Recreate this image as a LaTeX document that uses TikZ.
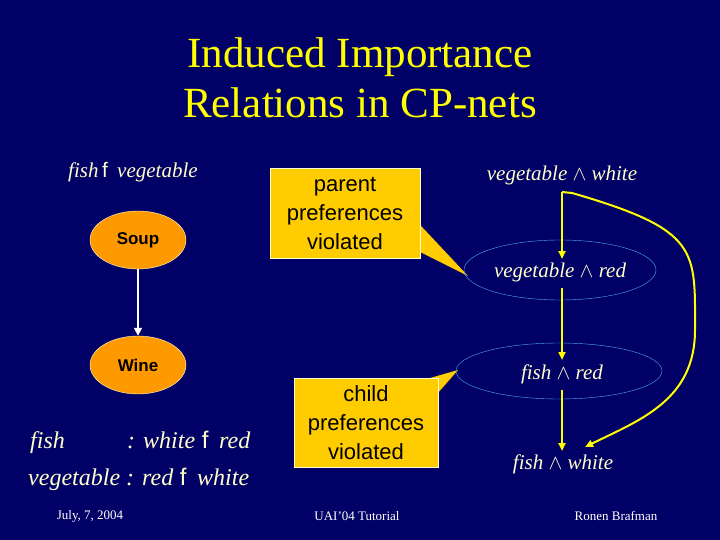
\documentclass[tikz,border=0pt]{standalone}
\usepackage{fontspec}
\setmainfont{Liberation Serif}
\newfontfamily\ls{Liberation Sans}
\usetikzlibrary{shapes.geometric,arrows.meta}
\definecolor{bg}{RGB}{0,0,102}
\definecolor{ttl}{RGB}{255,255,0}
\definecolor{txt}{RGB}{255,255,204}
\definecolor{orng}{RGB}{255,153,0}
\definecolor{callout}{RGB}{255,204,0}
\definecolor{ell}{RGB}{80,170,255}
\tikzset{
 cp/.style={ellipse,fill=orng,draw=txt,minimum width=96pt,minimum height=58pt,inner sep=0pt,font=\ls\fontsize{17}{19}\selectfont\bfseries,text=black},
 lab/.style={text=txt,font=\itshape\fontsize{21}{24}\selectfont,inner sep=0pt},
 llab/.style={text=txt,font=\itshape\fontsize{24}{26}\selectfont,inner sep=0pt},
 box/.style={fill=callout,draw=txt,text=black,align=center,font=\ls\fontsize{22}{29}\selectfont,inner sep=0pt},
 ov/.style={ellipse,draw=ell,thin,inner sep=0pt},
 yarr/.style={draw=ttl,line width=2pt,-{Triangle[length=8pt,width=7pt]}},
 foot/.style={text=white,font=\fontsize{13}{15}\selectfont,inner sep=0pt}
}
\begin{document}
\begin{tikzpicture}[x=1pt,y=-1pt]
\fill[bg] (0,0) rectangle (720,540);
\useasboundingbox (0,0) rectangle (720,540);
\node[text=ttl,align=center,font=\fontsize{43}{50}\selectfont] (title) at (360,78) {Induced Importance\\Relations in CP-nets};
% left
\node[lab,anchor=west] (pref) at (68,172) {fish\,{\upshape\ls f}\;\,vegetable};
\node[cp] (soup) at (138,240) {Soup};
\node[cp] (wine) at (138,365) {Wine};
\draw[white,line width=1.6pt,-{Triangle[length=8pt,width=8pt]}] (soup) -- (wine);
\node[llab,anchor=base west] (f1) at (30,448) {fish};
\node[llab,anchor=base west] (f1b) at (127,448) {: white\;{\upshape\ls f}\;\,red};
\node[llab,anchor=base west] (v1) at (28,485) {vegetable : red\;{\upshape\ls f}\;\,white};
% callouts
\fill[callout] (408,212) -- (468,276) -- (408,246) -- cycle;
\node[box,minimum width=150pt,minimum height=90pt] (parent) at (345,213) {parent\\preferences\\violated};
\fill[callout] (430,378) -- (458,370) -- (430,402) -- cycle;
\node[box,minimum width=144pt,minimum height=89pt] (child) at (366,423) {child\\preferences\\violated};
% right
\node[ov,minimum width=192pt,minimum height=60pt] (o1) at (560,270) {};
\node[ov,minimum width=206pt,minimum height=56pt] (o2) at (559,371) {};
\node[lab] (vw) at (562,175) {vegetable $\wedge$ white};
\node[lab] (vr) at (560,272) {vegetable $\wedge$ red};
\node[lab] (fr) at (562,374) {fish $\wedge$ red};
\node[lab] (fw) at (563,464) {fish $\wedge$ white};
\coordinate (s) at (562,192);
\draw[yarr] (s) -- (562,259);
\draw[yarr] (562,288) -- (562,360);
\draw[yarr] (562,390) -- (562,451);
\draw[yarr] (s) -- (572,193) .. controls (700,230) and (695,250) .. (695,330) .. controls (695,400) and (640,420) .. (585,447);
% footer
\node[foot] (d) at (90,516) {July, 7, 2004};
\node[foot] (u) at (357,516) {UAI'04 Tutorial};
\node[foot] (r) at (616,516) {Ronen Brafman};
\end{tikzpicture}
\end{document}
